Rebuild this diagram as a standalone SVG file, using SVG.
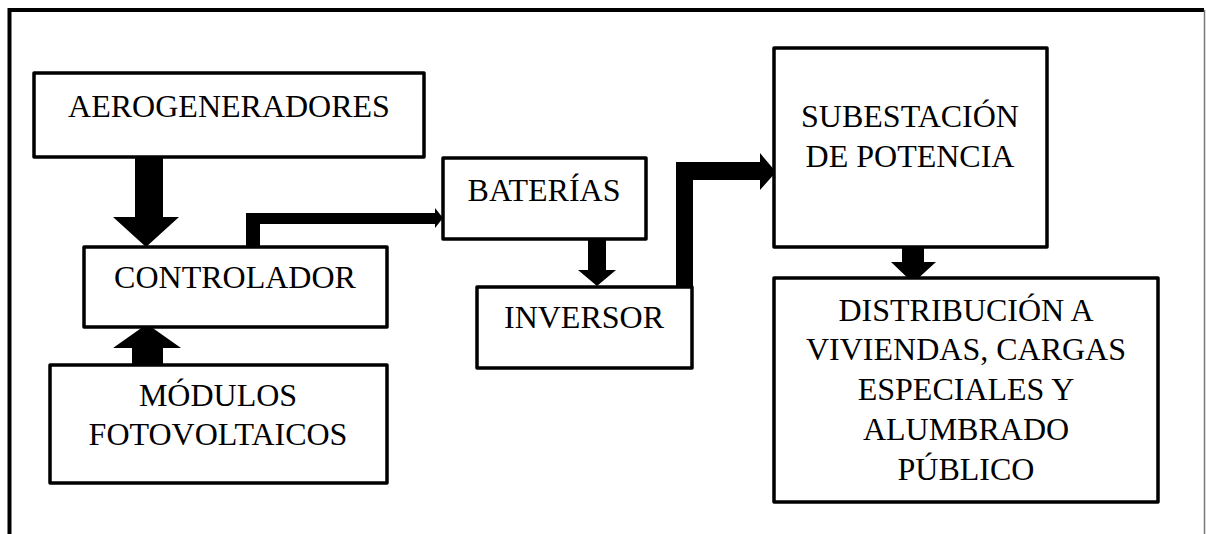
<svg xmlns="http://www.w3.org/2000/svg" width="1206" height="534" viewBox="0 0 1206 534">
<style>
.box{fill:#fff;stroke:#000;stroke-width:3.5;stroke-linejoin:round}
.t{font-family:"Liberation Serif","Times New Roman",serif;font-size:32px;fill:#000;text-anchor:middle}
.arr{fill:#000;stroke:none}
</style>
<rect width="1206" height="534" fill="#fff"/>
<g id="frame">
<path d="M9.5,534 V10 H1204" fill="none" stroke="#000" stroke-width="4"/>
<line x1="1204.5" y1="10" x2="1204.5" y2="534" stroke="#777" stroke-width="1.5"/>
</g>
<g id="connectors">
<polygon class="arr" points="135,157 163,157 163,217 179,217 146,247 113,217 135,217"/>
<polygon class="arr" points="246,247 246,213 435,213 435,208 443,218 435,228 435,224 260,224 260,247"/>
<polygon class="arr" points="588,239 606,239 606,270 616,270 597,286 578,270 588,270"/>
<polygon class="arr" points="676,287 676,162 760,162 760,153 776,172 760,190 760,180 693,180 693,287"/>
<polygon class="arr" points="902,247 924,247 924,262 936,262 913,283 891,262 902,262"/>
<polygon class="arr" points="132,365 132,348 113,348 147,324 181,348 163,348 163,365"/>
</g>
<g id="aerogeneradores">
<rect class="box" x="34" y="73" width="390" height="84"/>
<text class="t" x="229" y="117">AEROGENERADORES</text>
</g>
<g id="controlador">
<rect class="box" x="84" y="247" width="303" height="80"/>
<text class="t" x="235" y="288">CONTROLADOR</text>
</g>
<g id="modulos">
<rect class="box" x="50" y="365" width="337" height="118"/>
<text class="t" x="218" y="406">MÓDULOS</text>
<text class="t" x="218" y="445">FOTOVOLTAICOS</text>
</g>
<g id="baterias">
<rect class="box" x="443" y="158" width="203" height="81"/>
<text class="t" x="544" y="201">BATERÍAS</text>
</g>
<g id="inversor">
<rect class="box" x="477" y="287" width="215" height="81"/>
<text class="t" x="584" y="328">INVERSOR</text>
</g>
<g id="subestacion">
<rect class="box" x="774" y="48" width="273" height="199"/>
<text class="t" x="910" y="127">SUBESTACIÓN</text>
<text class="t" x="910" y="167">DE POTENCIA</text>
</g>
<g id="distribucion">
<rect class="box" x="774" y="278" width="384" height="224"/>
<text class="t" x="966" y="321">DISTRIBUCIÓN A</text>
<text class="t" x="966" y="360">VIVIENDAS, CARGAS</text>
<text class="t" x="966" y="400">ESPECIALES Y</text>
<text class="t" x="966" y="440">ALUMBRADO</text>
<text class="t" x="966" y="480">PÚBLICO</text>
</g>
</svg>
